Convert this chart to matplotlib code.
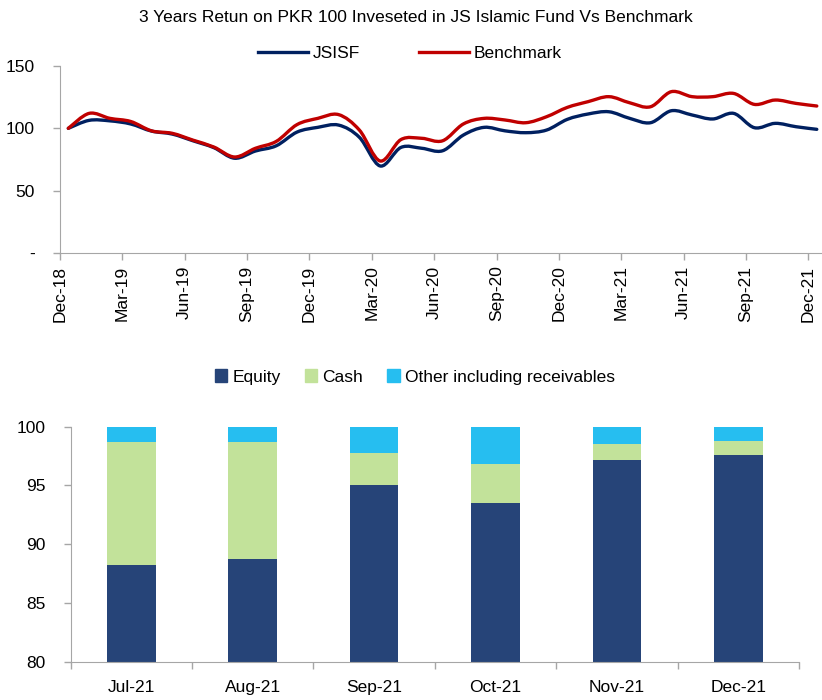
import matplotlib
matplotlib.use("Agg")
import matplotlib.pyplot as plt
from matplotlib.patches import Patch, PathPatch
from matplotlib.lines import Line2D
from matplotlib.path import Path
import numpy as np

plt.rcParams['font.family'] = ['Liberation Sans', 'DejaVu Sans']
plt.rcParams['font.size'] = 12.5

# top chart: value of PKR 100, month ends Dec-18 .. Dec-21
jsisf = [100, 106.4, 106, 103.5, 97.8, 95.4, 90, 84.5, 76, 81.8, 86, 97, 100.8, 102.6,
         92.8, 69.8, 84.7, 84, 82, 94.6, 100.8, 98, 96.5, 98.6, 107.2, 111.5, 113.3,
         108, 104.5, 114.1, 110.7, 107.5, 112, 100.5, 104, 101.3, 99.2]
benchmark = [100, 112, 108, 105.5, 98, 96, 90.5, 85, 77, 84, 89.5, 103, 108, 111,
             98.6, 73.8, 91, 92, 90, 103.5, 108, 106.7, 104.5, 109.3, 116.8, 121.4, 125.4,
             120.5, 117.3, 129.4, 125.4, 125.4, 128, 119.2, 122.7, 120, 117.9]
quarter_labels = ["Dec-18", "Mar-19", "Jun-19", "Sep-19", "Dec-19", "Mar-20", "Jun-20",
                  "Sep-20", "Dec-20", "Mar-21", "Jun-21", "Sep-21", "Dec-21"]

# bottom chart: asset allocation (% of total assets)
months = ["Jul-21", "Aug-21", "Sep-21", "Oct-21", "Nov-21", "Dec-21"]
equity = [88.2, 88.7, 95.0, 93.5, 97.2, 97.6]
cash = [10.5, 10.0, 2.8, 3.3, 1.3, 1.2]
other = [1.3, 1.3, 2.2, 3.2, 1.5, 1.2]

axis_grey = "#A6A6A6"
c_fund = "#002060"
c_bench = "#C00000"


def smooth_line(ax, xs, ys, color):
    # excel style "smoothed line": bezier segments through every point
    n = len(xs)
    verts = [(xs[0], ys[0])]
    codes = [Path.MOVETO]
    for i in range(n - 1):
        a = max(i - 1, 0)
        b = min(i + 2, n - 1)
        c1 = (xs[i] + (xs[i + 1] - xs[a]) / 6, ys[i] + (ys[i + 1] - ys[a]) / 6)
        c2 = (xs[i + 1] - (xs[b] - xs[i]) / 6, ys[i + 1] - (ys[b] - ys[i]) / 6)
        verts += [c1, c2, (xs[i + 1], ys[i + 1])]
        codes += [Path.CURVE4] * 3
    ax.add_patch(PathPatch(Path(verts, codes), fill=False, edgecolor=color, lw=2.4,
                           capstyle="round", joinstyle="round"))


fig = plt.figure(figsize=(8.22, 7.0), dpi=100)

# ---- line chart ----
ax1 = fig.add_axes([60/822, 1-253/700, 1-60/822, 187/700])
x = np.arange(len(jsisf))
smooth_line(ax1, x, jsisf, c_fund)
smooth_line(ax1, x, benchmark, c_bench)
ax1.set_ylim(0, 150)
ax1.set_xlim(-0.4, 36.25)
ax1.set_yticks([0, 50, 100, 150])
ax1.set_yticklabels(["-", "50", "100", "150"])
ax1.set_xticks(np.arange(len(quarter_labels)) * 3 - 0.4)
ax1.set_xticklabels(quarter_labels, rotation=90, va="top", ha="center")
for s in ["top", "right"]:
    ax1.spines[s].set_visible(False)
for s in ["left", "bottom"]:
    ax1.spines[s].set_color(axis_grey)
ax1.tick_params(axis="both", color=axis_grey, length=5, width=1)
ax1.tick_params(axis="y", pad=13)
ax1.tick_params(axis="x", pad=4)

fig.text(416/822, 1-18/700, "3 Years Retun on PKR 100 Inveseted in JS Islamic Fund Vs Benchmark",
         ha="center", va="center")
fig.legend(handles=[Line2D([], [], color=c_fund, lw=2.4),
                    Line2D([], [], color=c_bench, lw=2.4)],
           labels=["JSISF", "Benchmark"], loc="center", bbox_to_anchor=(410/822, 1-53/700),
           ncol=2, frameon=False, handlelength=2.9, handletextpad=0.25, columnspacing=3.4)

# ---- stacked bars ----
ax2 = fig.add_axes([70.7/822, 1-661.7/700, (799-70.7)/822, 235/700])
pos = np.arange(len(months))
w = 0.4
bottom_cash = np.array(equity)
bottom_other = bottom_cash + np.array(cash)
ax2.bar(pos, equity, w, color="#264478", label="Equity")
ax2.bar(pos, cash, w, bottom=bottom_cash, color="#C2E29A", label="Cash")
ax2.bar(pos, other, w, bottom=bottom_other, color="#26BEF0", label="Other including receivables")
ax2.set_ylim(80, 100)
ax2.set_xlim(-0.5, len(months) - 0.5)
ax2.set_yticks([80, 85, 90, 95, 100])
ax2.set_xticks(pos)
ax2.set_xticklabels(months)
ax2.set_xticks(np.arange(len(months) + 1) - 0.5, minor=True)
for s in ["top", "right"]:
    ax2.spines[s].set_visible(False)
for s in ["left", "bottom"]:
    ax2.spines[s].set_color(axis_grey)
ax2.tick_params(axis="y", color=axis_grey, length=5, width=1, pad=13)
ax2.tick_params(axis="x", which="major", length=0, pad=13)
ax2.tick_params(axis="x", which="minor", color=axis_grey, length=5, width=1)

fig.legend(handles=[Patch(color="#264478"), Patch(color="#C2E29A"), Patch(color="#26BEF0")],
           labels=["Equity", "Cash", "Other including receivables"], loc="center",
           bbox_to_anchor=(415/822, 1-377/700), ncol=3, frameon=False,
           handlelength=0.7, handleheight=0.7, handletextpad=0.3, columnspacing=1.4)

fig.savefig("out.png", dpi=100)
